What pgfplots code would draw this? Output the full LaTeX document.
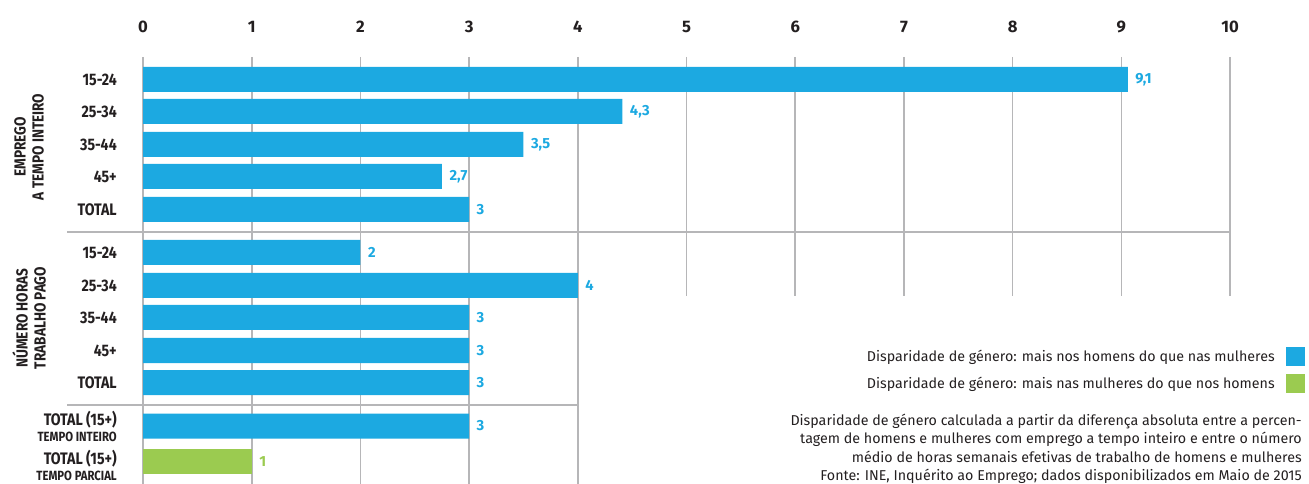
\documentclass[border=0pt]{standalone}
\usepackage{pgfplots}
\pgfplotsset{compat=1.18}
\usepackage{fontspec}
\setmainfont{Fira Sans}
\newfontfamily\cond[FakeStretch=0.85]{Fira Sans}
\definecolor{barblue}{RGB}{28,169,225}
\definecolor{bargreen}{RGB}{155,203,80}
\definecolor{gridgray}{RGB}{182,182,184}
\definecolor{txt}{RGB}{35,31,32}
\begin{document}
\begin{tikzpicture}
\begin{axis}[
  scale only axis, width=981.75pt, height=363pt,
  xmin=-1.31555, xmax=10.72677, ymin=0, ymax=484, y dir=reverse,
  axis lines=none, clip=false,
  xbar, bar shift=0pt, bar width=25,
  /pgf/number format/.cd, use comma, assume math mode=true, /pgfplots/.cd,
  nodes near coords, point meta=explicit,
  nodes near coords style={font=\bfseries\fontsize{11}{12}\selectfont, anchor=west, inner sep=0pt, xshift=5.5pt},
]
% grid
\foreach \i in {0,...,10} {\edef\tmp{\noexpand\draw[gridgray, line width=1.2pt] (axis cs:\i,57) -- (axis cs:\i,232);}\tmp}
\foreach \i in {5,...,10} {\edef\tmp{\noexpand\draw[gridgray, line width=1.2pt] (axis cs:\i,232) -- (axis cs:\i,296);}\tmp}
\foreach \i in {0,...,4} {\edef\tmp{\noexpand\draw[gridgray, line width=1.2pt] (axis cs:\i,232) -- (axis cs:\i,484);}\tmp}
\draw[gridgray, line width=1.2pt] (axis cs:-0.699,232) -- (axis cs:10,232);
\draw[gridgray, line width=1.2pt] (axis cs:-0.699,405) -- (axis cs:4,405);
% top tick labels
\foreach \i in {0,...,10} {\edef\tmp{\noexpand\node[txt, font=\noexpand\bfseries\noexpand\fontsize{12.5}{14}\noexpand\selectfont] at (axis cs:\i,27) {\i};}\tmp}

\addplot[fill=barblue, draw=none, every node near coord/.append style={text=barblue}] coordinates {
 (9.06,79.5) [9.1] (4.41,111.5) [4.3] (3.5,144.5) [3.5] (2.75,176.5) [2.7] (3,209.5) [3]
 (2,252.5) [2] (4,285.5) [4] (3,317.5) [3] (3,350.5) [3] (3,382.5) [3]
 (3,426) [3]
};
\addplot[fill=bargreen, draw=none, every node near coord/.append style={text=bargreen}] coordinates {
 (1,461.5) [1]
};

% category labels
\begin{scope}[every node/.style={txt, anchor=east, inner sep=0pt, font=\cond\bfseries\fontsize{12.5}{14}\selectfont}]
\node at (axis cs:-0.239,79.5) {15-24};
\node at (axis cs:-0.239,111.5) {25-34};
\node at (axis cs:-0.239,144.5) {35-44};
\node at (axis cs:-0.239,176.5) {45+};
\node at (axis cs:-0.239,209.5) {TOTAL};
\node at (axis cs:-0.239,252.5) {15-24};
\node at (axis cs:-0.239,285.5) {25-34};
\node at (axis cs:-0.239,317.5) {35-44};
\node at (axis cs:-0.239,350.5) {45+};
\node at (axis cs:-0.239,382.5) {TOTAL};
\node at (axis cs:-0.239,420) {TOTAL (15+)};
\node at (axis cs:-0.239,459) {TOTAL (15+)};
\node[font=\cond\bfseries\fontsize{10}{12}\selectfont] at (axis cs:-0.239,436.5) {TEMPO INTEIRO};
\node[font=\cond\bfseries\fontsize{10}{12}\selectfont] at (axis cs:-0.239,476) {TEMPO PARCIAL};
\end{scope}
% group labels
\node[txt, rotate=90, align=center, font=\cond\bfseries\fontsize{12}{13.5}\selectfont] at (axis cs:-1.0488,147) {EMPREGO\\A TEMPO INTEIRO};
\node[txt, rotate=90, align=center, font=\cond\bfseries\fontsize{12}{13.5}\selectfont] at (axis cs:-1.0488,318) {NÚMERO HORAS\\TRABALHO PAGO};

% legend
\begin{scope}[every node/.style={txt, anchor=base east, inner sep=0pt, font=\fontsize{10.7}{13}\selectfont}]
\node at (axis cs:10.414,361) {Disparidade de género: mais nos homens do que nas mulheres};
\node at (axis cs:10.414,388) {Disparidade de género: mais nas mulheres do que nos homens};
\node at (axis cs:10.662,425) {Disparidade de género calculada a partir da diferença absoluta entre a percen-};
\node at (axis cs:10.662,443.5) {tagem de homens e mulheres com emprego a tempo inteiro e entre o número};
\node at (axis cs:10.662,462) {médio de horas semanais efetivas de trabalho de homens e mulheres};
\node at (axis cs:10.662,480.5) {Fonte: INE, Inquérito ao Emprego; dados disponibilizados em Maio de 2015};
\end{scope}
\fill[barblue] (axis cs:10.515,347) rectangle (axis cs:10.690,366);
\fill[bargreen] (axis cs:10.515,374) rectangle (axis cs:10.690,393);

\coordinate (bl) at (rel axis cs:0,0);
\coordinate (tr) at (rel axis cs:1,1);
\end{axis}
\pgfresetboundingbox
\useasboundingbox (bl) rectangle (tr);
\end{tikzpicture}
\end{document}
